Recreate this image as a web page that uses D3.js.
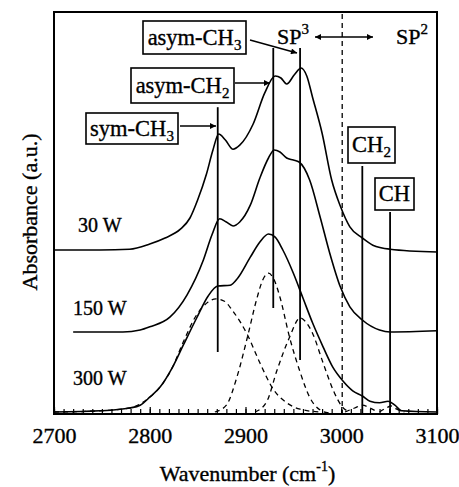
<!DOCTYPE html>
<html>
<head>
<meta charset="utf-8">
<script src="https://cdn.jsdelivr.net/npm/d3@7"></script>
<style>
  body { margin: 0; background: #fff; }
  svg text { font-family: "Liberation Serif", "Times New Roman", serif; fill: #000; stroke: #000; stroke-width: 0.35; }
</style>
</head>
<body>
<div id="chart"></div>
<script>
// spectra: [wavenumber, absorbance (a.u.)]
const w30 = [[2700,0.410],[2748,0.410],[2779,0.412],[2800,0.425],[2816,0.440],[2832,0.462],[2842,0.490],[2850,0.535],[2859,0.598],[2866,0.660],[2872,0.700],[2879,0.685],[2887,0.662],[2894,0.672],[2908,0.725],[2920,0.802],[2931,0.845],[2937,0.840],[2943,0.825],[2951,0.848],[2958,0.865],[2964,0.845],[2970,0.792],[2980,0.702],[2990,0.585],[2999,0.520],[3009,0.468],[3022,0.440],[3033,0.422],[3051,0.412],[3100,0.405]];
const w150 = [[2720,0.205],[2772,0.205],[2790,0.210],[2800,0.218],[2821,0.242],[2839,0.298],[2856,0.385],[2865,0.448],[2873,0.488],[2880,0.480],[2887,0.470],[2894,0.480],[2905,0.522],[2915,0.590],[2924,0.640],[2930,0.660],[2936,0.655],[2943,0.640],[2950,0.635],[2956,0.630],[2967,0.585],[2978,0.492],[2988,0.402],[2999,0.318],[3009,0.268],[3022,0.235],[3040,0.210],[3051,0.205],[3100,0.208]];
const w300 = [[2700,0.005],[2748,0.008],[2779,0.015],[2790,0.022],[2800,0.042],[2811,0.068],[2824,0.118],[2835,0.172],[2849,0.240],[2861,0.295],[2871,0.320],[2884,0.322],[2892,0.340],[2905,0.392],[2915,0.430],[2924,0.450],[2931,0.442],[2939,0.410],[2950,0.352],[2960,0.290],[2970,0.228],[2981,0.168],[2991,0.118],[3002,0.082],[3012,0.058],[3022,0.045],[3030,0.032],[3040,0.028],[3049,0.032],[3056,0.022],[3063,0.008],[3100,0.005]];

// fitted components of the 300 W spectrum (dashed)
const fitSym = [[2700,0.005],[2748,0.008],[2779,0.015],[2800,0.042],[2811,0.068],[2824,0.118],[2835,0.180],[2849,0.248],[2861,0.280],[2869,0.288],[2878,0.282],[2886,0.260],[2902,0.198],[2915,0.128],[2929,0.062],[2943,0.028],[2957,0.012],[2978,0.005]];
const fitAsymCH2 = [[2868,0.005],[2880,0.022],[2891,0.092],[2902,0.192],[2912,0.290],[2918,0.335],[2924,0.352],[2930,0.335],[2936,0.292],[2946,0.192],[2957,0.105],[2967,0.042],[2978,0.010],[2988,0.002]];
const fitAsymCH3 = [[2910,0.005],[2922,0.030],[2933,0.110],[2946,0.192],[2957,0.240],[2963,0.230],[2970,0.202],[2981,0.128],[2993,0.052],[3001,0.018],[3009,0.005]];
const fitCH2 = [[3004,0.005],[3014,0.015],[3022,0.022],[3030,0.015],[3038,0.005]];
const fitCH = [[3040,0.005],[3047,0.015],[3052,0.020],[3058,0.012],[3066,0.005]];

// peak marker lines: wavenumber, top, bottom (a.u.)
const markers = [[2871,0.767,0.155],[2929,0.915,0.265],[2957,0.915,0.135],[3022,0.620,0],[3051,0.505,0]];
const divider = 3001;

const powerLabels = ["30 W","150 W","300 W"];
const xTicksMajor = [2700,2800,2900,3000,3100];

const width = 459, height = 487;
const plot = { left: 54, right: 437, top: 12, bottom: 414 };

const x = d3.scaleLinear().domain([2700,3100]).range([plot.left, plot.right]);
const y = d3.scaleLinear().domain([0,1.005]).range([plot.bottom, plot.top]);

const svg = d3.select("#chart").append("svg")
  .attr("width", width).attr("height", height);

svg.append("defs").append("marker")
  .attr("id","head").attr("viewBox","0 0 10 10")
  .attr("refX",10).attr("refY",5)
  .attr("markerWidth",9).attr("markerHeight",6)
  .attr("markerUnits","userSpaceOnUse")
  .attr("orient","auto-start-reverse")
  .append("path").attr("d","M0,0L10,5L0,10z").attr("fill","#000");

const line = d3.line().x(d => x(d[0])).y(d => y(d[1])).curve(d3.curveMonotoneX);

// bottom axis, ticks pointing inward
svg.append("g")
  .attr("transform", `translate(0,${plot.bottom})`)
  .call(d3.axisBottom(x).tickValues(d3.range(2700,3101,10)).tickSizeInner(-5).tickSizeOuter(0).tickFormat(""))
  .call(g => g.select(".domain").remove())
  .call(g => g.selectAll("line").attr("stroke-width",1.2));

svg.append("g")
  .attr("transform", `translate(0,${plot.bottom})`)
  .call(d3.axisBottom(x).tickValues(xTicksMajor).tickSizeInner(-7).tickSizeOuter(0).tickPadding(13).tickFormat(d3.format("d")))
  .call(g => g.select(".domain").remove())
  .call(g => g.selectAll("line").attr("stroke-width",1.2))
  .call(g => g.selectAll("text").attr("font-size",22).attr("font-family","Liberation Serif"));

// frame
svg.append("rect")
  .attr("x", plot.left).attr("y", plot.top)
  .attr("width", plot.right - plot.left).attr("height", plot.bottom - plot.top)
  .attr("fill","none").attr("stroke","#000").attr("stroke-width",2);

// divider between sp3 and sp2
svg.append("line")
  .attr("x1", x(divider)).attr("x2", x(divider))
  .attr("y1", plot.top + 2).attr("y2", plot.bottom)
  .attr("stroke","#000").attr("stroke-width",1.3).attr("stroke-dasharray","5,4");

// dashed fit components
svg.selectAll("path.fit")
  .data([fitSym, fitAsymCH2, fitAsymCH3, fitCH2, fitCH])
  .join("path").attr("class","fit")
  .attr("d", line)
  .attr("fill","none").attr("stroke","#000")
  .attr("stroke-width",1.3).attr("stroke-dasharray","5,4");

// spectra
svg.selectAll("path.spec")
  .data([w30, w150, w300])
  .join("path").attr("class","spec")
  .attr("d", line)
  .attr("fill","none").attr("stroke","#000").attr("stroke-width",1.6);

// marker lines
svg.selectAll("line.mark")
  .data(markers)
  .join("line").attr("class","mark")
  .attr("x1", d => x(d[0])).attr("x2", d => x(d[0]))
  .attr("y1", d => y(d[1])).attr("y2", d => y(d[2]))
  .attr("stroke","#000").attr("stroke-width",1.8);

// power labels
const labelPos = [[78,232],[73,315],[73,385]];
svg.selectAll("text.pw")
  .data(powerLabels)
  .join("text").attr("class","pw")
  .attr("x", (d,i) => labelPos[i][0]).attr("y", (d,i) => labelPos[i][1])
  .attr("font-size",20)
  .text(d => d);

// boxed assignment labels
const boxes = [
  { main:"asym-CH", sub:"3", x:143, y:21, w:103, h:33 },
  { main:"asym-CH", sub:"2", x:131, y:68, w:103, h:35 },
  { main:"sym-CH", sub:"3", x:86, y:113, w:92, h:31 },
  { main:"CH", sub:"2", x:348, y:127, w:47, h:36 },
  { main:"CH", sub:"", x:375, y:178, w:39, h:32 }
];
boxes.forEach(b => {
  svg.append("rect")
    .attr("x", b.x).attr("y", b.y).attr("width", b.w).attr("height", b.h)
    .attr("fill","#fff").attr("stroke","#000").attr("stroke-width",1.6);
  const t = svg.append("text")
    .attr("x", b.x + b.w/2).attr("y", b.y + b.h/2 + 7)
    .attr("text-anchor","middle").attr("font-size",22.5);
  t.append("tspan").text(b.main);
  if (b.sub) t.append("tspan").attr("font-size",15).attr("dy",5).text(b.sub);
});

// arrows from labels to peaks
const arrows = [[250,40,297,53],[235,83,270,83],[180,126,216,126]];
svg.selectAll("line.arr")
  .data(arrows)
  .join("line").attr("class","arr")
  .attr("x1", d => d[0]).attr("y1", d => d[1])
  .attr("x2", d => d[2]).attr("y2", d => d[3])
  .attr("stroke","#000").attr("stroke-width",1.5)
  .attr("marker-end","url(#head)");

svg.append("line")
  .attr("x1",315).attr("y1",37).attr("x2",373).attr("y2",37)
  .attr("stroke","#000").attr("stroke-width",1.5)
  .attr("marker-start","url(#head)").attr("marker-end","url(#head)");

[["SP","3",277],["SP","2",396]].forEach(([m,s,px]) => {
  const t = svg.append("text").attr("x",px).attr("y",44).attr("font-size",22);
  t.append("tspan").text(m);
  t.append("tspan").attr("font-size",15).attr("dy",-10).text(s);
});

// axis titles
const xt = svg.append("text")
  .attr("x", (plot.left + plot.right)/2 + 2).attr("y", 481)
  .attr("text-anchor","middle").attr("font-size",22);
xt.append("tspan").text("Wavenumber (cm");
xt.append("tspan").attr("font-size",14).attr("dy",-10).text("-1");
xt.append("tspan").attr("dy",10).text(")");

svg.append("text")
  .attr("transform","translate(37,212) rotate(-90)")
  .attr("text-anchor","middle").attr("font-size",22)
  .text("Absorbance (a.u.)");
</script>
</body>
</html>
